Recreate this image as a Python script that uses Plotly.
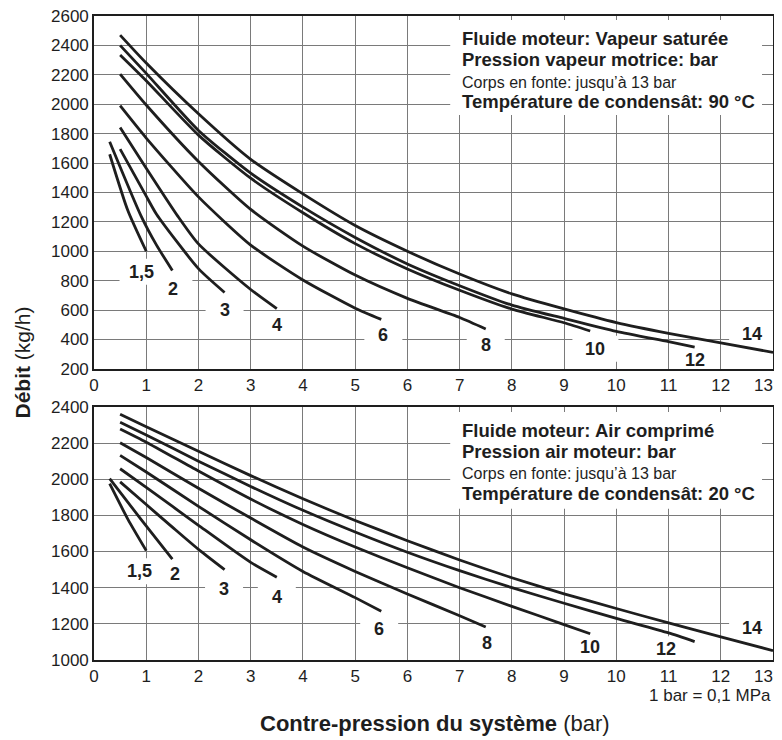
import plotly.graph_objects as go

# ---------------- data ----------------
pressure_labels = ["1,5", "2", "3", "4", "6", "8", "10", "12", "14"]

x_tick_vals = [0, 1, 2, 3, 4, 5, 6, 7, 8, 9, 10, 11, 12, 13]
top_y_tick_vals = [200, 400, 600, 800, 1000, 1200, 1400, 1600, 1800, 2000, 2200, 2400, 2600]
bottom_y_tick_vals = [1000, 1200, 1400, 1600, 1800, 2000, 2200, 2400]

# Steam (upper chart)
steam_x_15 = [0.3, 0.65, 1.0]
steam_y_15 = [1660, 1275, 1000]
steam_x_2 = [0.3, 0.9, 1.2, 1.5]
steam_y_2 = [1745, 1241, 1040, 870]
steam_x_3 = [0.5, 1.0, 1.2, 2.0, 2.5]
steam_y_3 = [1695, 1375, 1250, 882, 720]
steam_x_4 = [0.5, 1.0, 1.6, 2.0, 3.0, 3.5]
steam_y_4 = [1842, 1565, 1241, 1050, 740, 610]
steam_x_6 = [0.5, 1, 2, 3, 4, 5, 5.5]
steam_y_6 = [1990, 1770, 1370, 1042, 805, 613, 537]
steam_x_8 = [0.5, 1, 2, 3, 4, 5, 6, 7, 7.5]
steam_y_8 = [2205, 1995, 1611, 1285, 1035, 838, 680, 550, 472]
steam_x_10 = [0.5, 1, 2, 3, 4, 5, 6, 7, 8, 9, 9.5]
steam_y_10 = [2335, 2160, 1790, 1497, 1262, 1052, 880, 735, 607, 514, 458]
steam_x_12 = [0.5, 1, 2, 3, 4, 5, 6, 7, 8, 9, 10, 11, 11.5]
steam_y_12 = [2400, 2210, 1822, 1531, 1300, 1094, 914, 766, 634, 543, 455, 385, 348]
steam_x_14 = [0.5, 1, 2, 3, 4, 5, 6, 7, 8, 9, 10, 11, 12, 13]
steam_y_14 = [2470, 2280, 1935, 1625, 1390, 1175, 1000, 845, 710, 608, 515, 442, 377, 312]

# Compressed air (lower chart)
air_x_15 = [0.3, 0.65, 1.0]
air_y_15 = [1975, 1778, 1605]
air_x_2 = [0.3, 0.9, 1.5]
air_y_2 = [2003, 1778, 1558]
air_x_3 = [0.5, 1.0, 1.5, 2.0, 2.5]
air_y_3 = [1985, 1860, 1735, 1612, 1500]
air_x_4 = [0.5, 1, 2, 3, 3.5]
air_y_4 = [2058, 1955, 1745, 1540, 1458]
air_x_6 = [0.5, 1, 2, 3, 4, 5, 5.5]
air_y_6 = [2132, 2040, 1850, 1665, 1490, 1345, 1270]
air_x_8 = [0.5, 1, 2, 3, 4, 5, 6, 7, 7.5]
air_y_8 = [2202, 2120, 1950, 1785, 1625, 1490, 1365, 1245, 1183]
air_x_10 = [0.5, 1, 2, 3, 4, 5, 6, 7, 8, 9, 9.5]
air_y_10 = [2278, 2205, 2045, 1890, 1750, 1625, 1510, 1400, 1297, 1196, 1145]
air_x_12 = [0.5, 1, 2, 3, 4, 5, 6, 7, 8, 9, 10, 11, 11.5]
air_y_12 = [2315, 2245, 2100, 1960, 1828, 1708, 1596, 1494, 1400, 1314, 1230, 1150, 1102]
air_x_14 = [0.5, 1, 2, 3, 4, 5, 6, 7, 8, 9, 10, 11, 12, 13]
air_y_14 = [2360, 2290, 2155, 2020, 1892, 1772, 1660, 1553, 1455, 1366, 1285, 1205, 1128, 1052]

steam_curves = [(steam_x_15, steam_y_15), (steam_x_2, steam_y_2), (steam_x_3, steam_y_3),
                (steam_x_4, steam_y_4), (steam_x_6, steam_y_6), (steam_x_8, steam_y_8),
                (steam_x_10, steam_y_10), (steam_x_12, steam_y_12), (steam_x_14, steam_y_14)]
air_curves = [(air_x_15, air_y_15), (air_x_2, air_y_2), (air_x_3, air_y_3),
              (air_x_4, air_y_4), (air_x_6, air_y_6), (air_x_8, air_y_8),
              (air_x_10, air_y_10), (air_x_12, air_y_12), (air_x_14, air_y_14)]

steam_texts = ["Fluide moteur: Vapeur saturée", "Pression vapeur motrice: bar",
               "Corps en fonte: jusqu’à 13 bar", "Température de condensât: 90 °C"]
air_texts = ["Fluide moteur: Air comprimé", "Pression air moteur: bar",
             "Corps en fonte: jusqu’à 13 bar", "Température de condensât: 20 °C"]

# ---------------- layout helpers (positions) ----------------
steam_label_pos = [(0.91, 860), (1.52, 743), (2.5, 604), (3.51, 498), (5.54, 434),
                   (7.5, 362), (9.6, 337), (11.5, 262), (12.6, 438)]
air_label_pos = [(0.87, 1491), (1.56, 1476), (2.49, 1390), (3.50, 1347), (5.46, 1172),
                 (7.52, 1095), (9.5, 1071), (10.95, 1060), (12.6, 1176)]
steam_text_y = [2450, 2303, 2147, 2016]
air_text_y = [2271, 2155, 2030, 1920]

FONT = "Liberation Sans, Arial, Helvetica, sans-serif"
INK = "#1e1e1e"
GRID = "#7a7a7a"

# last x tick label is drawn as an annotation pulled slightly inside the page edge
x_tick_text = [str(v) for v in x_tick_vals[:-1]] + [""]
last_x_tick = x_tick_vals[-1]

fig = go.Figure()
for (xs, ys) in steam_curves:
    fig.add_trace(go.Scatter(x=xs, y=ys, mode="lines", xaxis="x", yaxis="y",
                             line=dict(color=INK, width=2.8, shape="spline", smoothing=0.6),
                             hoverinfo="skip", showlegend=False))
for (xs, ys) in air_curves:
    fig.add_trace(go.Scatter(x=xs, y=ys, mode="lines", xaxis="x2", yaxis="y2",
                             line=dict(color=INK, width=2.8, shape="spline", smoothing=0.6),
                             hoverinfo="skip", showlegend=False))

annotations = []
shapes = []


def label_box_width(lab):
    return 44 if "," in lab else (38 if len(lab) == 1 else 46)


for axx, axy, positions in (("x", "y", steam_label_pos), ("x2", "y2", air_label_pos)):
    for lab, (lx, ly) in zip(pressure_labels, positions):
        w = label_box_width(lab)
        shapes.append(dict(type="rect", xref=axx, yref=axy, xsizemode="pixel",
                           ysizemode="pixel", xanchor=lx, yanchor=ly,
                           x0=-w / 2, x1=w / 2, y0=-13, y1=13,
                           fillcolor="white", line=dict(width=0), layer="between"))
        annotations.append(dict(x=lx, y=ly, xref=axx, yref=axy, text="<b>%s</b>" % lab,
                                showarrow=False, font=dict(size=18, color=INK, family=FONT)))

BOLD_SIZE = 18.5
REG_SIZE = 16
for axx, axy, texts, ys in (("x", "y", steam_texts, steam_text_y),
                            ("x2", "y2", air_texts, air_text_y)):
    for i, (t, ty) in enumerate(zip(texts, ys)):
        bold = i != 2
        annotations.append(dict(x=7.0, y=ty, xref=axx, yref=axy, xanchor="left",
                                yanchor="middle",
                                text=("<b>%s</b>" % t) if bold else t, showarrow=False,
                                font=dict(size=BOLD_SIZE if bold else REG_SIZE, color=INK,
                                          family=FONT)))

for axx, axy, ybase in (("x", "y", top_y_tick_vals[0]), ("x2", "y2", bottom_y_tick_vals[0])):
    annotations.append(dict(x=last_x_tick, y=ybase, xref=axx, yref=axy, xanchor="right",
                            yanchor="middle", xshift=2, yshift=-17, showarrow=False,
                            text=str(last_x_tick),
                            font=dict(size=17, color=INK, family=FONT)))

shapes.append(dict(type="rect", xref="x", yref="y", x0=6.82, x1=12.79, y0=1927, y1=2573,
                   fillcolor="white", line=dict(width=0), layer="between"))
shapes.append(dict(type="rect", xref="x2", yref="y2", x0=6.82, x1=12.79, y0=1837, y1=2372,
                   fillcolor="white", line=dict(width=0), layer="between"))

annotations.append(dict(x=-0.106, y=0.462, xref="paper", yref="paper", textangle=-90,
                        xanchor="center", yanchor="middle",
                        text="<b>Débit</b> (kg/h)", showarrow=False,
                        font=dict(size=21, color=INK, family=FONT)))
annotations.append(dict(x=0.502, y=-0.099, xref="paper", yref="paper",
                        xanchor="center", yanchor="middle",
                        text="<b>Contre-pression du système</b> (bar)", showarrow=False,
                        font=dict(size=22, color=INK, family=FONT)))
annotations.append(dict(x=1.0, y=-0.0545, xref="paper", yref="paper", xanchor="right",
                        yanchor="middle", text="1 bar = 0,1 MPa", showarrow=False,
                        font=dict(size=17, color=INK, family=FONT)))

axis_common = dict(showgrid=True, gridcolor=GRID, gridwidth=1.3, showline=True,
                   linecolor=INK, linewidth=1.6, mirror=True, zeroline=False, ticks="",
                   automargin=False, ticklabeloverflow="allow",
                   tickfont=dict(size=17, color=INK, family=FONT))

# The page body adds an 8 px offset, so the figure is sized to fit the 782x740 window.
fig.update_layout(
    width=774, height=732,
    margin=dict(l=86, r=9, t=8, b=80, autoexpand=False),
    paper_bgcolor="white", plot_bgcolor="white",
    font=dict(family=FONT, color=INK),
    xaxis=dict(domain=[0, 1], anchor="y", range=[0, 13], tickvals=x_tick_vals,
               ticktext=x_tick_text, **axis_common),
    yaxis=dict(domain=[0.452, 1], anchor="x", range=[200, 2600], tickvals=top_y_tick_vals,
               **axis_common),
    xaxis2=dict(domain=[0, 1], anchor="y2", range=[0, 13], tickvals=x_tick_vals,
                ticktext=x_tick_text, **axis_common),
    yaxis2=dict(domain=[0, 0.393], anchor="x2", range=[1000, 2400], tickvals=bottom_y_tick_vals,
                **axis_common),
    annotations=annotations,
    shapes=shapes,
)

fig.write_html("out.html")
